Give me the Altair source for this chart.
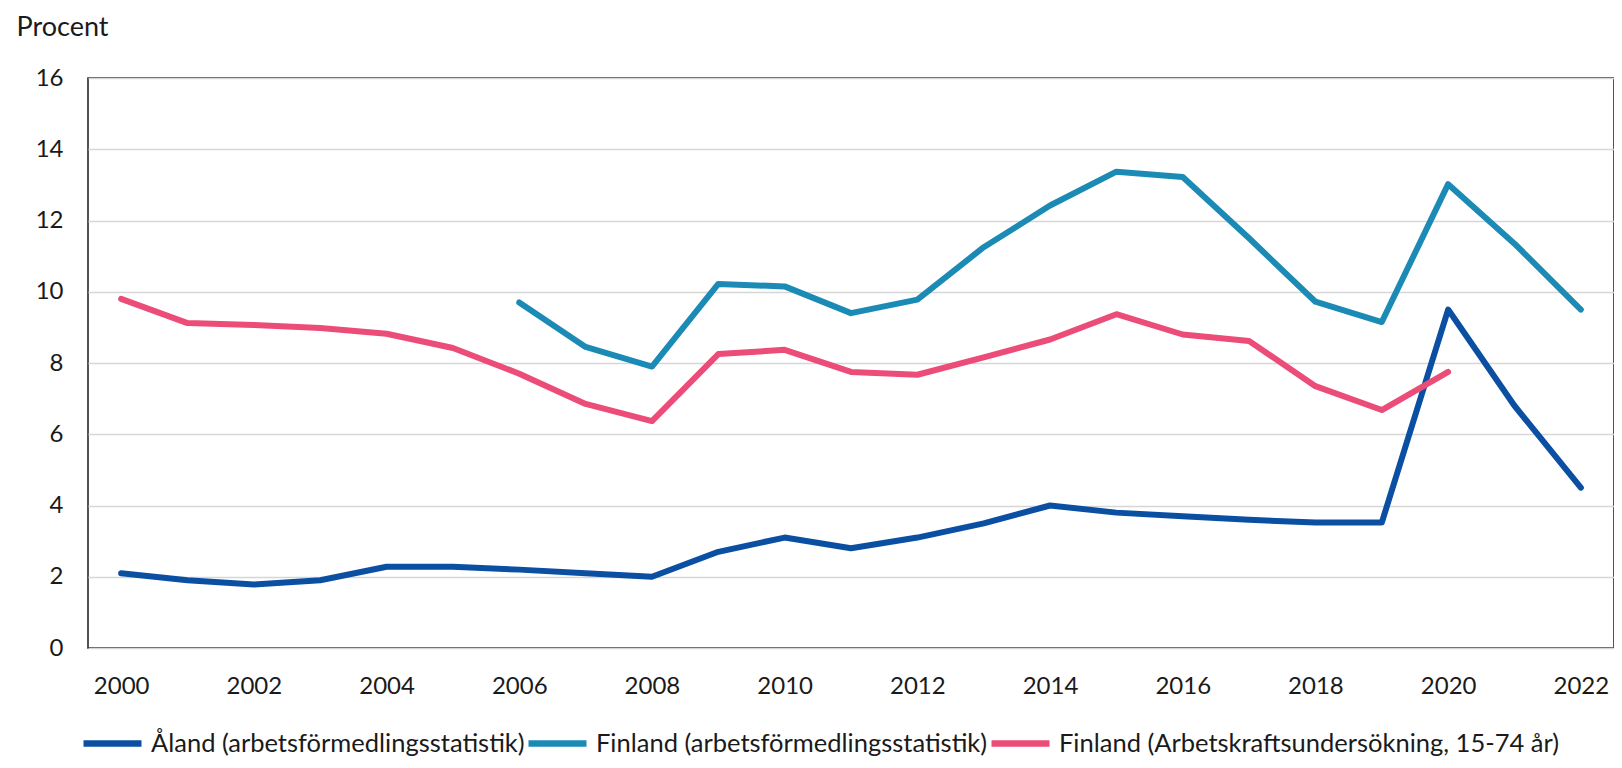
import altair as alt
import pandas as pd

years = list(range(2000, 2023))
aland = [2.1, 1.9, 1.78, 1.9, 2.28, 2.28, 2.2, 2.1, 2.0, 2.7, 3.1, 2.8, 3.1, 3.5, 4.0, 3.8, 3.7, 3.6, 3.52, 3.52, 9.5, 6.8, 4.5]
fin_af = [None, None, None, None, None, None, 9.7, 8.45, 7.9, 10.22, 10.15, 9.4, 9.78, 11.25, 12.42, 13.37, 13.22, 11.5, 9.72, 9.15, 13.02, 11.35, 9.5]
fin_aku = [9.8, 9.12, 9.07, 8.98, 8.82, 8.42, 7.7, 6.85, 6.37, 8.25, 8.37, 7.75, 7.67, 8.16, 8.66, 9.37, 8.8, 8.62, 7.35, 6.68, 7.75, None, None]

series = ["Åland (arbetsförmedlingsstatistik)",
          "Finland (arbetsförmedlingsstatistik)",
          "Finland (Arbetskraftsundersökning, 15-74 år)"]
colors = ["#0B4FA2", "#1B8BB6", "#EB4C78"]

rows = []
for name, vals in zip(series, [aland, fin_af, fin_aku]):
    for y, v in zip(years, vals):
        if v is not None:
            rows.append({"year": y, "value": v, "series": name})
df = pd.DataFrame(rows)

FONT = "Lato"
TXT = "#1a1a1a"

chart = alt.Chart(df).mark_line(strokeWidth=6, strokeCap="round", strokeJoin="round").encode(
    x=alt.X("year:Q",
            scale=alt.Scale(domain=[1999.5, 2022.5], nice=False, zero=False),
            axis=alt.Axis(values=list(range(2000, 2023, 2)), format="d", title=None,
                          grid=False, ticks=False, domain=False, labelPadding=26,
                          labelFontSize=24, labelColor=TXT, labelFont=FONT)),
    y=alt.Y("value:Q",
            scale=alt.Scale(domain=[0, 16], nice=False),
            axis=alt.Axis(values=list(range(0, 17, 2)), title="Procent", titleAngle=0,
                          titleAlign="left", titleBaseline="alphabetic", titleX=-72, titleY=-43,
                          titleFontSize=27, titleFontWeight="normal", titleColor=TXT,
                          titleFont=FONT,
                          grid=True, gridColor="#D6D6D6", gridWidth=1.5,
                          ticks=False, domain=False, labelPadding=25,
                          labelFontSize=24, labelColor=TXT, labelFont=FONT)),
    color=alt.Color("series:N",
                    scale=alt.Scale(domain=series, range=colors),
                    legend=alt.Legend(title=None, orient="none", direction="horizontal",
                                      legendX=-8, legendY=633,
                                      symbolType="stroke", symbolSize=3364, symbolStrokeWidth=6.5,
                                      labelFontSize=25.5, labelFont=FONT, labelColor=TXT,
                                      labelOffset=6, columnPadding=-20, labelLimit=700)),
).properties(
    width=1526, height=570,
    background="white",
    autosize=alt.AutoSizeParams(type="none"),
    padding={"left": 80, "top": 70, "right": 0, "bottom": 112},
).configure_view(
    stroke="#1a1a1a", strokeWidth=1.5
)

chart.save("out.html", embed_options={"renderer": "svg", "actions": False})
